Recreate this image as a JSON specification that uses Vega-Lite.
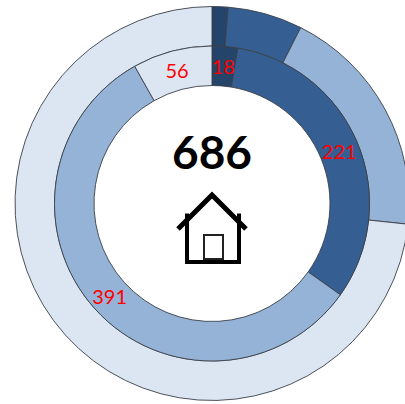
{
"$schema":"https://vega.github.io/schema/vega-lite/v6.json",
"width":385,"height":397,
"autosize":{"type":"none"},
"padding":{"left":19.5,"top":5,"right":0,"bottom":2},
"background":"white",
"config":{"view":{"stroke":null}},
"datasets":{"rings":[
{"ring":"outer","ringStart":2,"ringEnd":3,"segment":"a","order":1,"value":9},
{"ring":"outer","ringStart":2,"ringEnd":3,"segment":"b","order":2,"value":42},
{"ring":"outer","ringStart":2,"ringEnd":3,"segment":"c","order":3,"value":132},
{"ring":"outer","ringStart":2,"ringEnd":3,"segment":"d","order":4,"value":503},
{"ring":"inner","ringStart":1,"ringEnd":2,"segment":"a","order":1,"value":18},
{"ring":"inner","ringStart":1,"ringEnd":2,"segment":"b","order":2,"value":221},
{"ring":"inner","ringStart":1,"ringEnd":2,"segment":"c","order":3,"value":391},
{"ring":"inner","ringStart":1,"ringEnd":2,"segment":"d","order":4,"value":56}
]},
"layer":[
{"data":{"name":"rings"},
"transform":[{"stack":"value","groupby":["ring"],"sort":[{"field":"order","order":"ascending"}],"as":["a0","a1"]}],
"mark":{"type":"arc","stroke":"#3a3f47","strokeWidth":0.9},
"encoding":{
"theta":{"field":"a0","type":"quantitative","scale":{"type":"linear","domain":[0,686],"range":[0,6.283185307]}},
"theta2":{"field":"a1"},
"radius":{"field":"ringStart","type":"quantitative","scale":{"type":"linear","domain":[1,3],"range":[118,197],"zero":false}},
"radius2":{"field":"ringEnd"},
"color":{"field":"segment","type":"nominal","legend":null,"scale":{"domain":["a","b","c","d"],"range":["#254469","#355f92","#95b3d7","#dce6f2"]}}
}},
{"data":{"name":"rings"},
"transform":[{"stack":"value","groupby":["ring"],"sort":[{"field":"order","order":"ascending"}],"as":["a0","a1"]},
{"filter":"datum.ring==='inner'"},
{"calculate":"(datum.a0+datum.a1)/2","as":"mid"},
{"calculate":"(datum.ringStart+datum.ringEnd)/2","as":"rmid"}],
"mark":{"type":"text","font":"Lato","fontSize":20,"color":"#ff0000","align":"center","baseline":"middle","dy":2},
"encoding":{
"theta":{"field":"mid","type":"quantitative","scale":{"type":"linear","domain":[0,686],"range":[0,6.283185307]}},
"radius":{"field":"rmid","type":"quantitative","scale":{"type":"linear","domain":[1,3],"range":[118,197],"zero":false}},
"text":{"field":"value","type":"quantitative"}
}},
{"data":{"values":[{"total":686}]},
"mark":{"type":"text","font":"Lato","fontWeight":"bold","fontSize":46,"color":"#000000","align":"center","baseline":"middle","dy":-49},
"encoding":{"text":{"field":"total","type":"quantitative"}}},
{"data":{"values":[{"icon":"house"}]},
"mark":{"type":"point","filled":false,"size":4,"opacity":1,"stroke":"#000000","strokeWidth":5,"strokeCap":"butt","strokeJoin":"miter",
"shape":"M-34 25.5L0 -8.5L34 25.5"},
"encoding":{}},
{"data":{"values":[{"icon":"house body"}]},
"mark":{"type":"point","filled":false,"size":4,"opacity":1,"stroke":"#000000","strokeWidth":4,"strokeJoin":"miter",
"shape":"M-25 10L-25 58.5L27 58.5L27 10"},
"encoding":{}},
{"data":{"values":[{"icon":"door"}]},
"mark":{"type":"point","filled":false,"size":4,"opacity":1,"stroke":"#222222","strokeWidth":2,"strokeJoin":"miter",
"shape":"M-8 31.5L11 31.5L11 55.5L-8 55.5Z"},
"encoding":{}}
]
}
